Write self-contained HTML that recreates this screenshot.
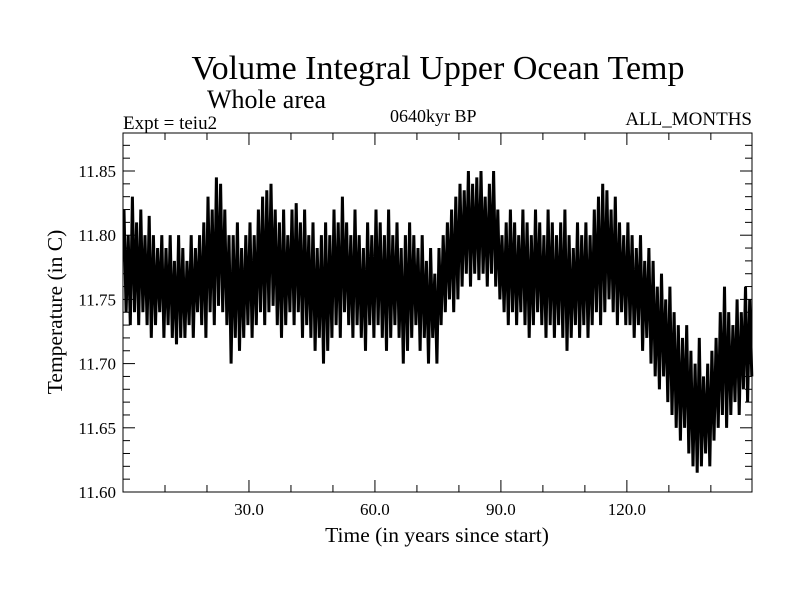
<!DOCTYPE html>
<html><head><meta charset="utf-8"><style>
body{margin:0;background:#fff}
svg{display:block;font-family:"Liberation Serif",serif}
</style></head><body>
<svg id="chart" width="800" height="600">
<text x="438" y="79" font-size="34" text-anchor="middle">Volume Integral Upper Ocean Temp</text>
<text x="207" y="108" font-size="26">Whole area</text>
<text x="123" y="129" font-size="19">Expt = teiu2</text>
<text x="390" y="122" font-size="18">0640kyr BP</text>
<text x="752" y="125" font-size="19" text-anchor="end">ALL_MONTHS</text>
<text x="437" y="542" font-size="21.5" text-anchor="middle">Time (in years since start)</text>
<text transform="translate(62,312) rotate(-90)" font-size="21.5" text-anchor="middle">Temperature (in C)</text>
<g id="axes"></g>
<path id="series" fill="none" stroke="#000" stroke-width="3" stroke-linejoin="miter"/>
<rect x="123" y="133" width="629" height="359" fill="none" stroke="#000" stroke-width="1"/>
</svg>
<script>
const annualMax=[11.82,11.80,11.83,11.81,11.82,11.80,11.815,11.80,11.79,11.80,
11.79,11.80,11.78,11.80,11.79,11.78,11.80,11.79,11.80,11.81,
11.83,11.82,11.845,11.84,11.82,11.80,11.80,11.81,11.79,11.80,
11.81,11.80,11.82,11.83,11.835,11.84,11.82,11.81,11.82,11.80,
11.82,11.825,11.81,11.82,11.80,11.81,11.79,11.80,11.81,11.80,
11.82,11.81,11.83,11.81,11.80,11.82,11.80,11.79,11.81,11.80,
11.82,11.81,11.80,11.82,11.80,11.81,11.79,11.80,11.81,11.80,
11.79,11.80,11.78,11.79,11.77,11.79,11.80,11.81,11.82,11.83,
11.84,11.835,11.85,11.84,11.845,11.85,11.83,11.84,11.85,11.82,
11.80,11.81,11.82,11.81,11.80,11.82,11.81,11.80,11.82,11.81,
11.80,11.82,11.81,11.80,11.81,11.82,11.80,11.79,11.81,11.80,
11.81,11.80,11.82,11.83,11.84,11.835,11.82,11.83,11.81,11.80,
11.81,11.80,11.79,11.80,11.78,11.79,11.78,11.76,11.77,11.75,
11.76,11.74,11.73,11.72,11.73,11.71,11.70,11.72,11.69,11.70,
11.71,11.72,11.74,11.76,11.74,11.73,11.75,11.74,11.76,11.75];
const annualMin=[11.74,11.73,11.74,11.73,11.74,11.73,11.72,11.73,11.74,11.72,
11.73,11.72,11.715,11.72,11.72,11.73,11.72,11.74,11.73,11.72,
11.74,11.73,11.745,11.74,11.73,11.70,11.72,11.71,11.72,11.73,
11.72,11.73,11.74,11.73,11.74,11.745,11.73,11.72,11.73,11.74,
11.73,11.74,11.72,11.73,11.72,11.71,11.72,11.70,11.71,11.72,
11.73,11.72,11.74,11.73,11.72,11.73,11.72,11.71,11.73,11.72,
11.73,11.72,11.71,11.72,11.73,11.72,11.70,11.71,11.72,11.73,
11.71,11.72,11.70,11.72,11.70,11.73,11.74,11.75,11.74,11.75,
11.76,11.77,11.76,11.77,11.765,11.77,11.76,11.77,11.76,11.75,
11.74,11.73,11.74,11.73,11.74,11.73,11.72,11.73,11.74,11.73,
11.72,11.73,11.72,11.73,11.72,11.71,11.72,11.73,11.72,11.73,
11.72,11.73,11.74,11.73,11.74,11.75,11.74,11.73,11.74,11.73,
11.73,11.72,11.73,11.71,11.72,11.70,11.69,11.68,11.69,11.67,
11.66,11.65,11.64,11.65,11.63,11.62,11.615,11.62,11.63,11.62,
11.64,11.65,11.66,11.65,11.66,11.67,11.66,11.68,11.67,11.69];
const xTickValues=[30,60,90,120];
const xTickLabels=["30.0","60.0","90.0","120.0"];
const yTickValues=[11.60,11.65,11.70,11.75,11.80,11.85];
const yTickLabels=["11.60","11.65","11.70","11.75","11.80","11.85"];
const X0=123,X1=752,Y0=492,Y1=133,XMIN=0,XMAX=149.8,YMIN=11.60,YMAX=11.8796;
function xs(v){return X0+(v-XMIN)/(XMAX-XMIN)*(X1-X0);}
function ys(v){return Y0-(v-YMIN)/(YMAX-YMIN)*(Y0-Y1);}
const NS="http://www.w3.org/2000/svg";
const axes=document.getElementById('axes');
function line(x1,y1,x2,y2,name){const l=document.createElementNS(NS,'line');
l.setAttribute('x1',x1);l.setAttribute('y1',y1);l.setAttribute('x2',x2);l.setAttribute('y2',y2);
l.setAttribute('stroke','#000');l.setAttribute('stroke-width','1');


axes.appendChild(l);}
function text(x,y,s,anchor,name){const t=document.createElementNS(NS,'text');
t.setAttribute('x',x);t.setAttribute('y',y);t.setAttribute('font-size','17');t.setAttribute('text-anchor',anchor);t.textContent=s;


axes.appendChild(t);}
for(let v=10;v<150;v+=10){const x=xs(v);const L=(v%30===0)?12:7;
line(x,Y0,x,Y0-L,'x-tick');line(x,Y1,x,Y1+L,'x-tick-top');}
for(let k=0;k<=27;k++){const v=YMIN+k*0.01;const y=ys(v);const L=(k%5===0)?12:7;
line(X0,y,X0+L,y,'y-tick');line(X1,y,X1-L,y,'y-tick-right');}
xTickValues.forEach((v,i)=>text(xs(v),515,xTickLabels[i],'middle','x-tick-label'));
yTickValues.forEach((v,i)=>text(116,ys(v)+6,yTickLabels[i],'end','y-tick-label'));
let d='';
for(let i=0;i<annualMax.length;i++){
d+=(i===0?'M':'L')+xs(i+0.25).toFixed(1)+','+ys(annualMax[i]).toFixed(1);
d+='L'+xs(i+0.75).toFixed(1)+','+ys(annualMin[i]).toFixed(1);}
document.getElementById('series').setAttribute('d',d);
</script>
</body></html>
